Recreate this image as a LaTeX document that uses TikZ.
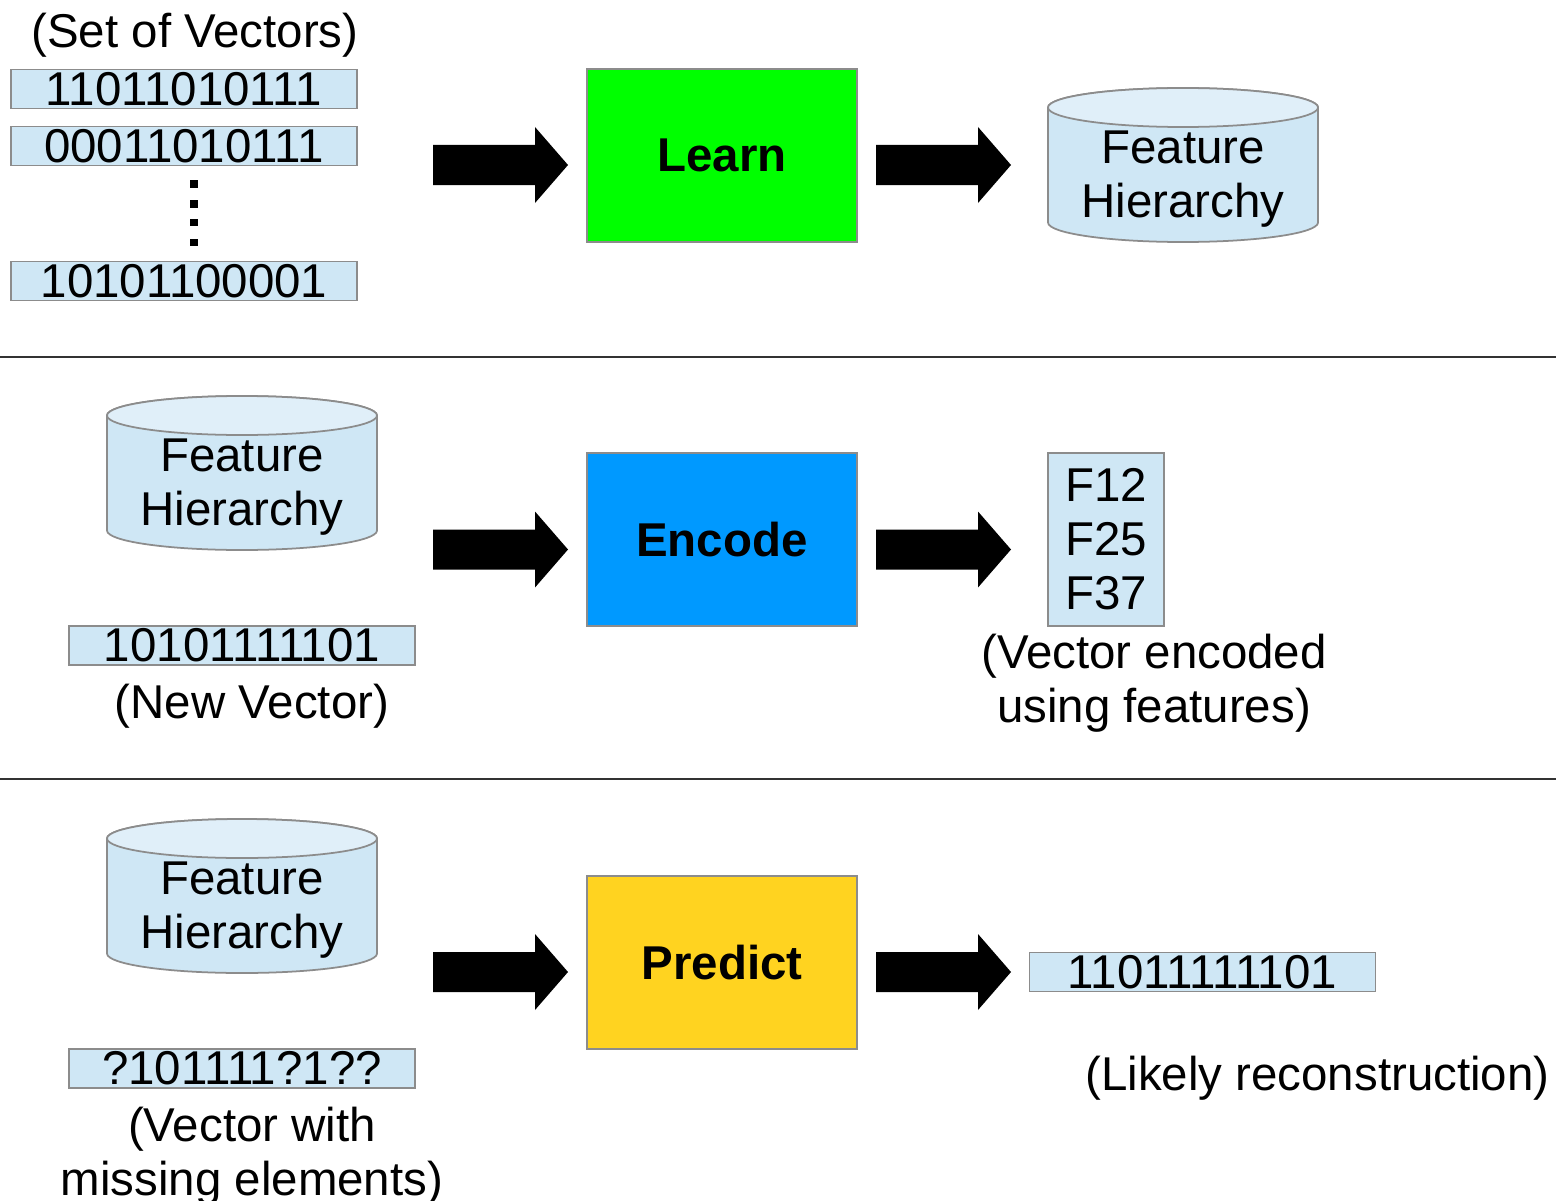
\documentclass[tikz,border=0pt]{standalone}
\usepackage{fontspec}
\setmainfont{Liberation Sans}
\usepackage{tikz}
\usetikzlibrary{calc,positioning}

\definecolor{vecblue}{HTML}{CFE7F5}
\definecolor{dbtop}{HTML}{E0EFF9}
\definecolor{learngreen}{HTML}{00FF00}
\definecolor{encodeblue}{HTML}{0099FF}
\definecolor{predictgold}{HTML}{FFD320}

% feature store drawn as a cylinder: name, x of centre, y of top
\newcommand{\hierdb}[3]{%
\begin{scope}[shift={(#2,#3)}]
\filldraw[fill=vecblue,draw=black!45,line width=0.5] (-1.35,-0.195) -- (-1.35,-1.345) arc[start angle=180,end angle=360,x radius=1.35,y radius=0.195] -- (1.35,-0.195) arc[start angle=0,end angle=180,x radius=1.35,y radius=0.195] -- cycle;
\filldraw[fill=dbtop,draw=black!45,line width=0.5] (0,-0.195) ellipse[x radius=1.35,y radius=0.195];
\node[txt,align=center] (#1) at (0,-0.915) {Feature\\Hierarchy};
\end{scope}}

% fat black arrow round a named coordinate
\newcommand{\bigarrow}[1]{%
\fill[black] (#1) ++(-0.675,0.20) -- ++(1.02,0) -- ++(0,0.18) -- ++(0.33,-0.38) -- ++(-0.33,-0.38) -- ++(0,0.18) -- ++(-1.02,0) -- cycle;}

\begin{document}
\begin{tikzpicture}[
  txt/.style={inner sep=0,font=\fontsize{13.5}{15.4}\selectfont},
  vecbox/.style={txt,draw=black!45,line width=0.5,fill=vecblue,minimum width=3.46cm,minimum height=0.39cm},
  stepbox/.style={draw=black!45,line width=0.5,minimum width=2.70cm,minimum height=1.73cm,inner sep=0,font=\fontsize{13.5}{15.4}\selectfont\bfseries},
  sepline/.style={draw=black!80,line width=0.8}]
\useasboundingbox[fill=white] (0,0) rectangle (15.56,-12.01);
% vectors -> Learn -> hierarchy
\node[txt,anchor=base] (setlbl) at (1.95,-0.475) {(Set of Vectors)};
\node[vecbox] (v1) at (1.84,-0.89) {11011010111};
\node[vecbox] (v2) at (1.84,-1.46) {00011010111};
\foreach \y in {-1.84,-2.04,-2.225,-2.425}
  \fill (1.895,\y+0.04) rectangle (1.975,\y-0.04);
\node[vecbox] (v3) at (1.84,-2.81) {10101100001};
\coordinate (a1) at (5.005,-1.65);
\bigarrow{a1}
\node[stepbox,fill=learngreen] (learn) at (7.22,-1.555) {Learn};
\coordinate (a2) at (9.435,-1.65);
\bigarrow{a2}
\hierdb{hier1}{11.83}{-0.88}
\draw[sepline] (0,-3.57) -- (15.56,-3.57);
% hierarchy + new vector -> Encode -> features
\hierdb{hier2}{2.42}{-3.96}
\node[vecbox] (vnew) at (2.42,-6.455) {10101111101};
\node[txt,anchor=base] (newlbl) at (2.52,-7.18) {(New Vector)};
\coordinate (a3) at (5.005,-5.495);
\bigarrow{a3}
\node[stepbox,fill=encodeblue] (encode) at (7.22,-5.395) {Encode};
\coordinate (a4) at (9.435,-5.495);
\bigarrow{a4}
\node[txt,draw=black!45,line width=0.5,fill=vecblue,minimum width=1.16cm,minimum height=1.73cm,align=center] (feats) at (11.06,-5.395) {F12\\F25\\F37};
\node[txt,align=center] (featlbl) at (11.54,-6.83) {(Vector encoded\\using features)};
\draw[sepline] (0,-7.79) -- (15.56,-7.79);
% hierarchy + partial vector -> Predict -> reconstruction
\hierdb{hier3}{2.42}{-8.19}
\node[vecbox] (vmiss) at (2.42,-10.685) {?101111?1??};
\node[txt,align=center] (misslbl) at (2.52,-11.56) {(Vector with\\missing elements)};
\coordinate (a5) at (5.005,-9.72);
\bigarrow{a5}
\node[stepbox,fill=predictgold] (predict) at (7.22,-9.625) {Predict};
\coordinate (a6) at (9.435,-9.72);
\bigarrow{a6}
\node[vecbox] (vout) at (12.025,-9.72) {11011111101};
\node[txt,anchor=base] (outlbl) at (13.175,-10.90) {(Likely reconstruction)};
\end{tikzpicture}
\end{document}
